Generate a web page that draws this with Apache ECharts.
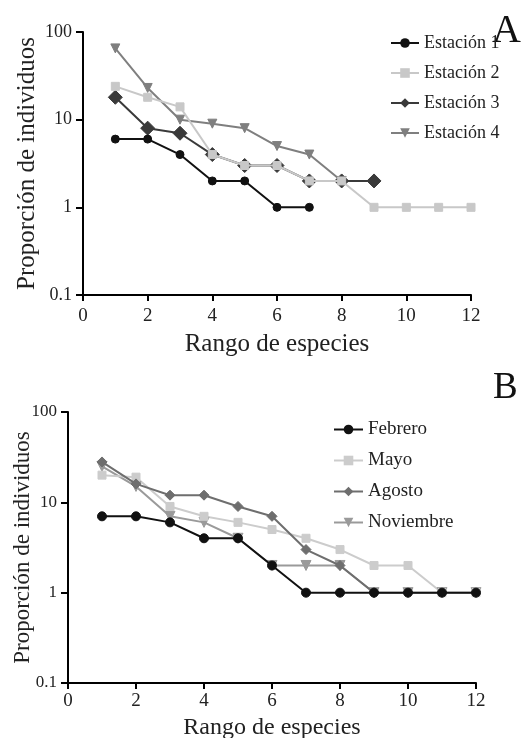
<!DOCTYPE html>
<html><head><meta charset="utf-8">
<script src="https://cdn.jsdelivr.net/npm/echarts@6/dist/echarts.min.js"></script>
<style>html,body{margin:0;padding:0;background:#fff}#c{width:527px;height:738px}</style>
</head><body><div id="c"></div>
<script>
// Panel A
const ranksA = [1,2,3,4,5,6,7,8,9,10,11,12];
const est1 = [6,6,4,2,2,1,1];
const est2 = [24,18,14,4,3,3,2,2,1,1,1,1];
const est3 = [18,8,7,4,3,3,2,2,2];
const est4 = [65,23,10,9,8,5,4,2];
const namesA = ['Estación 1','Estación 2','Estación 3','Estación 4'];
// Panel B
const ranksB = [1,2,3,4,5,6,7,8,9,10,11,12];
const febrero = [7,7,6,4,4,2,1,1,1,1,1,1];
const mayo = [20,19,9,7,6,5,4,3,2,2,1,1];
const agosto = [28,16,12,12,9,7,3,2,1];
const noviembre = [25,15,7,6,4,2,2,2,1,1,1,1];
const namesB = ['Febrero','Mayo','Agosto','Noviembre'];
const xTicks = [0,2,4,6,8,10,12];
const yTicks = [0.1,1,10,100];

const F = 'Liberation Serif, Times New Roman, serif';
function pts(ranks, vals){ return vals.map((v,i)=>[ranks[i], v]); }

function ser(name, ranks, vals, idx, color, symbol, size, rot, z){
  return {name, type:'line', xAxisIndex:idx, yAxisIndex:idx, data:pts(ranks, vals),
    symbol, symbolSize:size, symbolRotate:rot||0, showAllSymbol:true, z,
    itemStyle:{color, borderColor:color}, lineStyle:{color, width:2}, emphasis:{disabled:true}};
}

function xAx(idx, gap, margin, nfs){
  return {type:'value', gridIndex:idx, min:0, max:12, interval:2,
    name:'Rango de especies', nameLocation:'middle', nameGap:gap, nameMoveOverlap:false,
    nameTextStyle:{fontFamily:F, fontSize:nfs, color:'#222'},
    axisLine:{lineStyle:{color:'#000', width:2}},
    axisTick:{show:true, length:6, lineStyle:{color:'#000', width:2}},
    axisLabel:{fontFamily:F, fontSize:19, color:'#222', margin,
      formatter:v=>{ const m = xTicks.find(t=>t===v); return m===undefined?'':String(m);} },
    splitLine:{show:false}};
}
function yAx(idx, gap, nfs, lfs){
  return {type:'log', logBase:10, gridIndex:idx, min:0.1, max:100,
    name:'Proporción de individuos', nameLocation:'middle', nameGap:gap, nameMoveOverlap:false,
    nameTextStyle:{fontFamily:F, fontSize:nfs, color:'#222'},
    axisLine:{show:true, lineStyle:{color:'#000', width:2}},
    axisTick:{show:true, length:7, lineStyle:{color:'#000', width:2}},
    axisLabel:{fontFamily:F, fontSize:lfs, color:'#222', margin:11,
      formatter:v=>{ const m = yTicks.find(t=>Math.abs(t-v)/t<1e-6); return m===undefined?'':String(m);} },
    splitLine:{show:false}};
}

const chart = echarts.init(document.getElementById('c'), null, {renderer:'canvas'});
chart.setOption({
  backgroundColor:'#fff',
  animation:false,
  grid:[
    {left:83, top:32, width:388, height:263, containLabel:false, outerBoundsMode:'none'},
    {left:68, top:412, width:408, height:271, containLabel:false, outerBoundsMode:'none'}
  ],
  xAxis:[xAx(0, 37, 12, 25), xAx(1, 33, 9, 24)],
  yAxis:[yAx(0, 43, 25, 18), yAx(1, 34, 23, 17)],
  legend:[
    {data:namesA, orient:'vertical', left:390, top:34, itemWidth:28, itemHeight:12, itemGap:12,
     textStyle:{fontFamily:F, fontSize:18, color:'#222'}, padding:0, selectedMode:false},
    {data:namesB, orient:'vertical', left:333, top:420, itemWidth:29, itemHeight:12, itemGap:12,
     textStyle:{fontFamily:F, fontSize:19, color:'#222'}, padding:0, selectedMode:false}
  ],
  graphic:[
    {type:'text', left:492, top:11, style:{text:'A', font:'40px '+F, fill:'#111'}},
    {type:'text', left:493, top:370, style:{text:'B', font:'37px '+F, fill:'#111'}}
  ],
  series:[
    ser(namesA[3], ranksA, est4, 0, '#7f7f7f', 'triangle', 9, 180, 2),
    ser(namesA[2], ranksA, est3, 0, '#3a3a3a', 'diamond', 14, 0, 3),
    ser(namesA[1], ranksA, est2, 0, '#c8c8c8', 'rect', 8, 0, 4),
    ser(namesA[0], ranksA, est1, 0, '#111111', 'circle', 8, 0, 5),
    ser(namesB[3], ranksB, noviembre, 1, '#9a9a9a', 'triangle', 10, 180, 2),
    ser(namesB[2], ranksB, agosto, 1, '#6e6e6e', 'diamond', 10, 0, 3),
    ser(namesB[1], ranksB, mayo, 1, '#cccccc', 'rect', 8, 0, 2),
    ser(namesB[0], ranksB, febrero, 1, '#111111', 'circle', 9, 0, 5)
  ]
});
</script></body></html>
